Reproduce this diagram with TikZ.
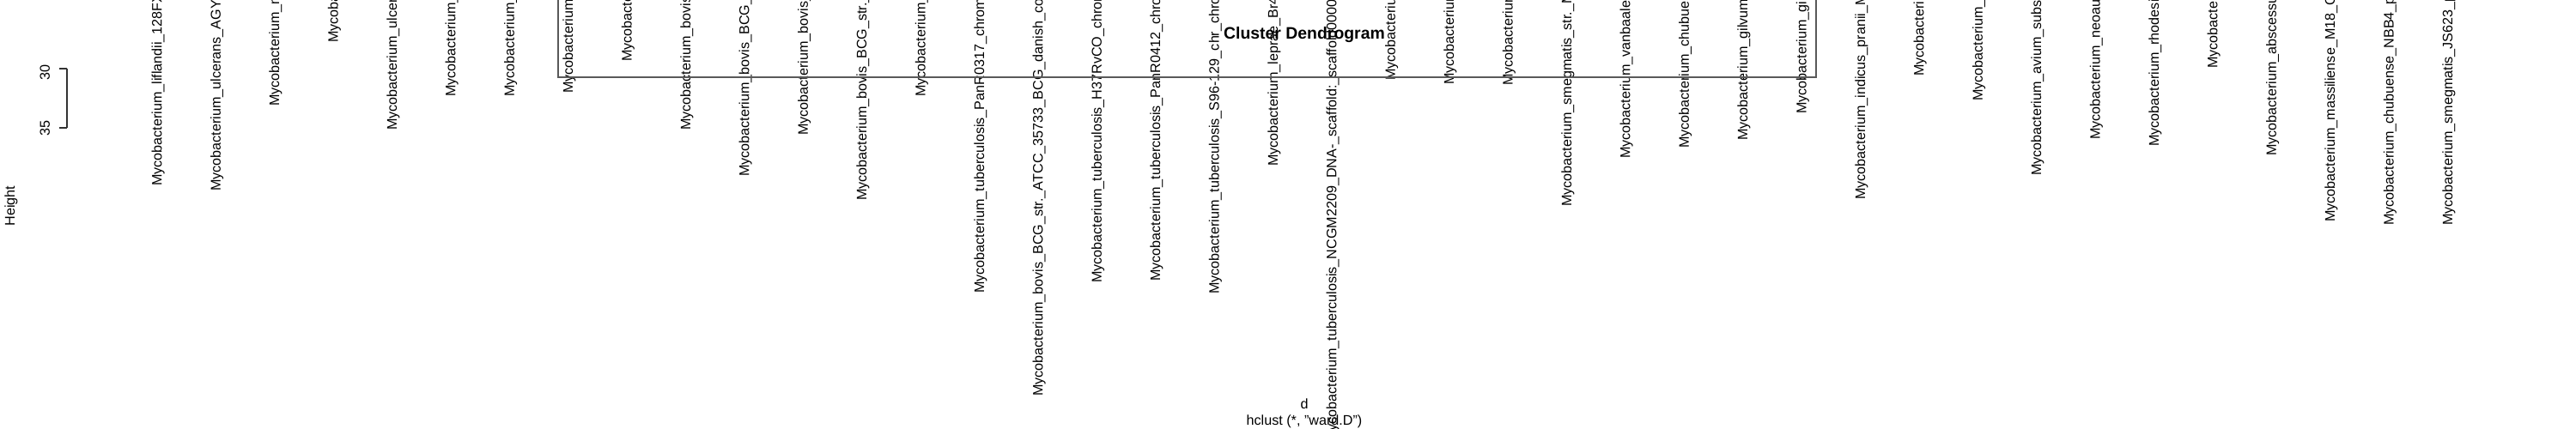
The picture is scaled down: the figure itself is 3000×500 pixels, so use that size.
\documentclass[tikz,border=0pt]{standalone}
\usepackage{fontspec}
\setmainfont{Liberation Sans}
\begin{document}
\begin{tikzpicture}[x=0.24pt,y=-0.24pt,
  txt/.style={inner sep=0pt,outer sep=0pt,font=\fontsize{3.88pt}{4.6pt}\selectfont},
  leaf/.style={txt,rotate=90,anchor=base west},
  vlab/.style={txt,rotate=90,anchor=base},
  ttl/.style={inner sep=0pt,outer sep=0pt,anchor=base,font=\fontsize{4.66pt}{5.5pt}\selectfont\bfseries},
  dend/.style={draw=black!65,line width=0.36pt},
  axisline/.style={draw=black!80,line width=0.3pt}]
\fill[white] (0,0) rectangle (3000,500);
\useasboundingbox (0,0) rectangle (3000,500);
% leaf labels
\foreach \i/\yb/\t in {
0/217/{Mycobacterium\_liflandii\_128FXT},
1/223/{Mycobacterium\_ulcerans\_AGY99},
2/124/{Mycobacterium\_marinum},
3/50/{Mycobacterium},
4/152/{Mycobacterium\_ulcerans},
5/113/{Mycobacterium\_},
6/113/{Mycobacterium\_},
7/109/{Mycobacterium\_},
8/72/{Mycobacterium},
9/152/{Mycobacterium\_bovis\_},
10/206/{Mycobacterium\_bovis\_BCG\_},
11/158/{Mycobacterium\_bovis\_},
12/234/{Mycobacterium\_bovis\_BCG\_str.\_},
13/113/{Mycobacterium\_},
14/342/{Mycobacterium\_tuberculosis\_PanR0317\_chromosome},
15/462/{Mycobacterium\_bovis\_BCG\_str.\_ATCC\_35733\_BCG\_danish\_co},
16/330/{Mycobacterium\_tuberculosis\_H37RvCO\_chromosome},
17/328/{Mycobacterium\_tuberculosis\_PanR0412\_chromosome},
18/343/{Mycobacterium\_tuberculosis\_S96-129\_chr\_chromosome},
19/194/{Mycobacterium\_leprae\_Br4923},
20/516/{Mycobacterium\_tuberculosis\_NCGM2209\_DNA-\_scaffold:\_scaffold00000},
21/94/{Mycobacterium},
22/99/{Mycobacterium},
23/100/{Mycobacterium},
24/241/{Mycobacterium\_smegmatis\_str.\_MC2},
25/185/{Mycobacterium\_vanbaalenii},
26/173/{Mycobacterium\_chubuense},
27/164/{Mycobacterium\_gilvum\_},
28/133/{Mycobacterium\_gilvum},
29/233/{Mycobacterium\_indicus\_pranii\_MTCC},
30/89/{Mycobacterium},
31/118/{Mycobacterium\_},
32/205/{Mycobacterium\_avium\_subsp.},
33/163/{Mycobacterium\_neoaurum},
34/171/{Mycobacterium\_rhodesiae},
35/80/{Mycobacterium},
36/182/{Mycobacterium\_abscessus},
37/259/{Mycobacterium\_massiliense\_M18\_C},
38/263/{Mycobacterium\_chubuense\_NBB4\_plasmid},
39/263/{Mycobacterium\_smegmatis\_JS623\_plasmid}}
  \node[leaf] (l\i) at ({188.4+68.4*\i},\yb) {\t};
% dendrogram branch
\coordinate (tl) at (650,0);
\coordinate (bl) at (650,90);
\coordinate (br) at (2115,90);
\coordinate (tr) at (2115,0);
\draw[dend] (tl) -- (bl) -- (br) -- (tr);
% axis
\coordinate (a30) at (78,80);
\coordinate (a35) at (78,149);
\coordinate (t30) at (69,80);
\coordinate (t35) at (69,149);
\draw[axisline] (a30) -- (a35);
\draw[axisline] (a30) -- (t30);
\draw[axisline] (a35) -- (t35);
\node[vlab] (n30) at (58,85) {30};
\node[vlab] (n35) at (58,150) {35};
\node[vlab] (ylab) at (17,240) {Height};
% titles
\node[ttl] (title) at (1519,46) {Cluster Dendrogram};
\node[txt,anchor=base] (xlab) at (1519,477) {d};
\node[txt,anchor=base] (sub) at (1519,496) {hclust (*, "ward.D")};
\end{tikzpicture}
\end{document}
